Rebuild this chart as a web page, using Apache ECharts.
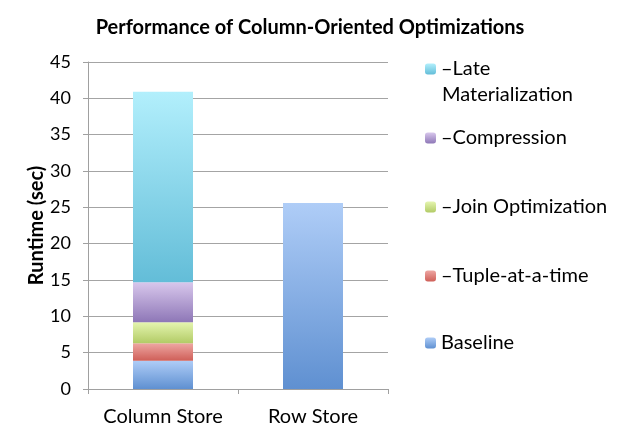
<!DOCTYPE html>
<html>
<head>
<meta charset="utf-8">
<script src="https://cdn.jsdelivr.net/npm/echarts@6/dist/echarts.min.js"></script>
<style>
  html, body { margin: 0; padding: 0; background: #fff; }
  #chart { width: 620px; height: 438px; }
</style>
</head>
<body>
<div id="chart"></div>
<script>
// 数据
const categories = ["Column Store", "Row Store"];
const yTicks = [0, 5, 10, 15, 20, 25, 30, 35, 40, 45];
const baseline = [3.9, 25.6];
const tupleAtATime = [2.4, 0];
const joinOpt = [2.9, 0];
const compression = [5.5, 0];
const lateMat = [26.2, 0];

const font = "Lato, 'Liberation Sans', sans-serif";

// 渐变色 (上浅下深)
function grad(top, bottom) {
  return new echarts.graphic.LinearGradient(0, 0, 0, 1, [
    { offset: 0, color: top },
    { offset: 1, color: bottom }
  ]);
}

const seriesDefs = [
  { name: "Baseline", data: baseline, c: grad("#afcdf7", "#5f90d1") },
  { name: "–Tuple-at-a-time", data: tupleAtATime, c: grad("#eea7a3", "#cf5f58") },
  { name: "–Join Optimization", data: joinOpt, c: grad("#e5f5b0", "#b2cb66") },
  { name: "–Compression", data: compression, c: grad("#d8c7ec", "#8e77b7") },
  { name: "–Late Materialization", data: lateMat, c: grad("#b2effc", "#63bdd8") }
];

// 图例 (每项单独定位)
const legendTops = [333, 266, 197, 128, 59];
const legends = seriesDefs.map((s, i) => ({
  data: [s.name],
  left: 425,
  top: legendTops[i],
  padding: 0,
  itemWidth: 11,
  itemHeight: 11,
  itemGap: 0,
  formatter: name => name === "–Late Materialization" ? "–Late" : name,
  textStyle: { fontFamily: font, fontSize: 20, color: "#000" },
  selectedMode: false
}));

const chart = echarts.init(document.getElementById("chart"));
chart.setOption({
  animation: false,
  title: {
    text: "Performance of Column-Oriented Optimizations",
    left: "center",
    top: 18,
    padding: 0,
    textStyle: { fontFamily: font, fontSize: 20, fontWeight: "bold", color: "#000" }
  },
  legend: legends,
  graphic: [{
    type: "text",
    left: 442,
    top: 85,
    style: { text: "Materialization", fontFamily: font, fontSize: 20, fill: "#000" }
  }],
  grid: { left: 88, right: 232, top: 62, bottom: 49 },
  xAxis: {
    type: "category",
    data: categories,
    axisLine: { lineStyle: { color: "#a0a0a0" } },
    axisTick: { show: true, length: 5, lineStyle: { color: "#a0a0a0" } },
    axisLabel: { fontFamily: font, fontSize: 20, color: "#000", margin: 18, interval: 0, hideOverlap: false }
  },
  yAxis: {
    type: "value",
    min: yTicks[0],
    max: yTicks[yTicks.length - 1],
    interval: 5,
    name: "Runtime (sec)",
    nameLocation: "middle",
    nameGap: 36,
    nameTextStyle: { fontFamily: font, fontSize: 20, fontWeight: "bold", color: "#000" },
    axisLine: { show: true, lineStyle: { color: "#a0a0a0" } },
    axisTick: { show: true, length: 5, lineStyle: { color: "#a0a0a0" } },
    axisLabel: { fontFamily: font, fontSize: 18, color: "#000", margin: 17 },
    splitLine: { lineStyle: { color: "#a4a4a4" } }
  },
  series: seriesDefs.map(s => ({
    name: s.name,
    type: "bar",
    stack: "total",
    barWidth: "40%",
    data: s.data,
    itemStyle: { color: s.c }
  }))
});
</script>
</body>
</html>
